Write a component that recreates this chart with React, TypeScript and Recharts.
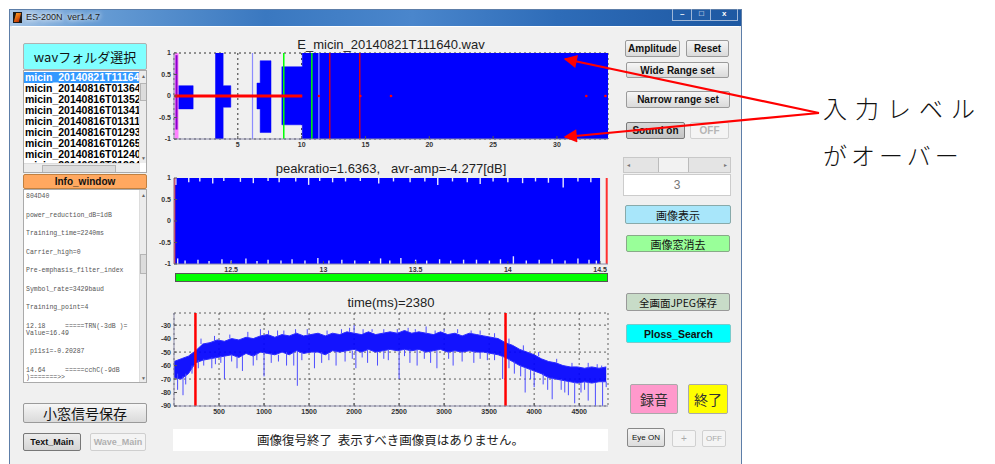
import React from "react";
import {
  ComposedChart,
  Area,
  XAxis,
  YAxis,
  CartesianGrid,
  ReferenceLine,
  ReferenceArea,
  ReferenceDot,
} from "recharts";

// ---- top plot: whole recording, envelope per segment (time s, min, max)
const waveStart = [0, 0.35, 1.5, 3.25, 3.85, 4.45, 6.5, 6.75, 7.6, 8.45, 10.05, 34];
const waveHigh = [0, 0.24, 0, 1, 0.24, 0, 0.3, 0.82, 0, 0.68, 1, 1];
const waveLow = [0, -0.3, 0, -1, -0.26, 0, -0.3, -0.85, 0, -0.67, -1, -1];
const waveTicks = [5, 10, 15, 20, 25, 30];
const ampTicks = [-1, -0.5, 0, 0.5, 1];
const greenMarks = [8.6, 10.8];
const paleMarks = [6.15, 11.35];
const redMarks = [12.2, 14.55];
const zeroDots = [11.35, 14.6, 17.0, 32.3, 33.8];
const startBand = [0.05, 0.35];
const startLine = [0.2, -0.78, 0.95];
const zeroLineEnd = 10.05;

// ---- middle plot: zoomed window 12.19 .. 14.5 s
const zoomRange = [12.19, 14.5];
const zoomDomain = [12.19, 14.543];
const zoomTicks = [12.5, 13, 13.5, 14, 14.5];
const zoomCursors = [12.193, 14.536];
// dropouts: [time s, depth from the rail]
const dropTop = [
  [12.2, 0.16], [12.27, 0.1], [12.33, 0.08], [12.4, 0.13], [12.46, 0.07], [12.55, 0.09],
  [12.62, 0.12], [12.7, 0.07], [12.76, 0.1], [12.85, 0.08], [12.92, 0.16], [12.98, 0.07],
  [13.05, 0.1], [13.12, 0.08], [13.2, 0.07], [13.3, 0.13], [13.38, 0.08], [13.47, 0.1],
  [13.55, 0.08], [13.62, 0.16], [13.7, 0.08], [13.78, 0.1], [13.85, 0.14], [13.92, 0.08],
  [14.0, 0.1], [14.08, 0.12], [14.15, 0.08], [14.22, 0.11], [14.3, 0.22], [14.38, 0.08],
  [14.45, 0.1],
];
const dropBottom = [
  [12.21, 0.13], [12.25, 0.08], [12.32, 0.1], [12.38, 0.07], [12.45, 0.11], [12.5, 0.08],
  [12.58, 0.13], [12.64, 0.07], [12.7, 0.1], [12.77, 0.08], [12.83, 0.11], [12.9, 0.08],
  [12.97, 0.14], [13.03, 0.08], [13.1, 0.1], [13.17, 0.08], [13.25, 0.07], [13.31, 0.13],
  [13.36, 0.08], [13.42, 0.14], [13.5, 0.1], [13.56, 0.08], [13.63, 0.11], [13.69, 0.08],
  [13.76, 0.1], [13.83, 0.1], [13.9, 0.08], [13.96, 0.11], [14.03, 0.18], [14.1, 0.08],
  [14.17, 0.1], [14.24, 0.11], [14.31, 0.08], [14.38, 0.13], [14.44, 0.1], [14.48, 0.08],
];

// ---- bottom plot: level in dB, one value every 80 ms
const levelStep = 80;
const levelHigh = [
  -57, -55, -53, -49, -44, -43, -41, -42, -40, -41,
  -39, -40, -38, -37, -39, -37, -38, -36, -38, -37,
  -36, -38, -36, -37, -35, -36, -37, -35, -37, -36,
  -35, -36, -34, -36, -35, -36, -37, -35, -37, -36,
  -38, -36, -37, -38, -39, -40, -43, -45, -48, -50,
  -52, -55, -57, -58, -60, -61, -61, -62, -61, -62, -61,
];
const levelLow = [
  -69, -70, -66, -58, -56, -55, -54, -53, -52, -54,
  -51, -53, -50, -51, -52, -50, -52, -49, -51, -50,
  -50, -52, -49, -50, -49, -48, -50, -48, -50, -49,
  -48, -49, -48, -49, -48, -50, -49, -48, -50, -49,
  -50, -49, -50, -50, -51, -52, -54, -57, -60, -62,
  -64, -66, -69, -70, -71, -72, -73, -72, -73, -72, -72,
];
// spikes: [time ms, from dB, to dB]
const levelSpikes = [
  [40, -66, -78], [100, -68, -82], [130, -66, -74], [270, -56, -62], [330, -55, -60],
  [420, -54, -62], [520, -53, -58], [560, -53, -70], [700, -53, -62], [760, -53, -64],
  [880, -52, -60], [1000, -50, -68], [1080, -51, -58], [1250, -50, -60], [1330, -50, -60],
  [1370, -49, -75], [1560, -50, -62], [1640, -50, -58], [1800, -49, -60], [1900, -49, -57],
  [2020, -48, -62], [2150, -48, -58], [2260, -50, -60], [2380, -48, -56], [2500, -49, -70],
  [2620, -48, -58], [2700, -48, -60], [2850, -49, -58], [2920, -49, -62], [3100, -49, -60],
  [3200, -50, -57], [3330, -49, -58], [3480, -50, -56], [3650, -53, -70], [3780, -57, -66],
  [3900, -62, -80], [4000, -64, -76], [4100, -66, -74], [4200, -69, -85], [4300, -70, -78],
  [4380, -72, -82], [4450, -72, -88], [4520, -73, -80], [4600, -72, -86], [4680, -73, -90],
  [4760, -72, -90], [200, -60, -66], [460, -54, -59], [640, -52, -57], [920, -51, -56],
  [1160, -52, -57], [1420, -50, -56], [1720, -51, -56], [1980, -49, -55], [2090, -50, -54],
  [2330, -49, -55], [2560, -48, -53], [2780, -49, -55], [3050, -50, -55], [3400, -50, -55],
  [3560, -51, -56], [3720, -55, -62], [3850, -60, -68], [3960, -63, -70], [4150, -68, -78],
  [4340, -71, -80], [4560, -72, -78], [4800, -72, -76],
  [960, -38, -33], [1050, -37, -34], [1350, -36, -33], [2000, -36, -30], [2200, -35, -33],
  [2480, -36, -33], [2800, -36, -31], [3000, -35, -33], [3300, -36, -34], [4600, -62, -58],
  [4750, -62, -60], [300, -44, -40], [450, -42, -38], [620, -40, -37], [820, -39, -35],
  [1150, -38, -34], [1220, -37, -34], [1480, -37, -33], [1700, -37, -34], [1860, -36, -33],
  [1950, -35, -32], [2100, -36, -33], [2330, -36, -33], [2600, -35, -32], [2680, -35, -33],
  [2900, -36, -34], [3150, -36, -33], [3400, -37, -34], [3560, -39, -36], [3720, -44, -40],
  [3880, -49, -45], [4050, -53, -50], [4250, -58, -55], [4420, -61, -58], [4700, -62, -59],
];
const levelTicksX = [500, 1000, 1500, 2000, 2500, 3000, 3500, 4000, 4500];
const levelTicksY = [-90, -80, -70, -60, -50, -40, -30];
const levelDomainX = [0, 4820];
const levelDomainY = [-90, -21];
const levelCursors = [238, 3682];

// ---- GUI texts
const wavFiles = [
  "micin_20140821T11164",
  "micin_20140816T01364",
  "micin_20140816T01352",
  "micin_20140816T01341",
  "micin_20140816T01311",
  "micin_20140816T01293",
  "micin_20140816T01265",
  "micin_20140816T01240",
  "micin_20140816T01224",
];
const infoBlocks = [
  ["804D40"],
  ["power_reduction_dB=1dB"],
  ["Training_time=2240ms"],
  ["Carrier_high=0"],
  ["Pre-emphasis_filter_index"],
  ["Symbol_rate=3429baud"],
  ["Training_point=4"],
  ["12.18     =====TRN(-3dB )=", "Value=16.49"],
  [" p11s1=-0.20287"],
  ["14.64     =====cchC(-9dB", ")=======>>"],
];

const SANS = "'Liberation Sans', Arial, sans-serif";
const JP = "'Noto Sans CJK JP', sans-serif";
const tickStyle = { fontSize: 7, fill: "#333", fontFamily: SANS, fontWeight: 700 };
const frame = { stroke: "#8a8aa8", strokeWidth: 1 };
const fmt = (v: number) => String(v);

function Btn(props: any) {
  const {
    x, y, w, h, label, bg = "linear-gradient(#f6f6f6,#dadada)", color = "#111",
    size = 10, weight = 700, border = "#9a9a9a", font = SANS,
  } = props;
  return (
    <div
      style={{
        position: "absolute", left: x, top: y, width: w, height: h, background: bg,
        border: `1px solid ${border}`, borderRadius: 2, boxSizing: "border-box",
        display: "flex", alignItems: "center", justifyContent: "center",
        fontSize: size, fontWeight: weight, color, fontFamily: font,
        whiteSpace: "nowrap", overflow: "hidden",
      }}
    >
      {label}
    </div>
  );
}

function Title({ y, text }: { y: number; text: string }) {
  return (
    <div
      style={{
        position: "absolute", left: 174, width: 434, top: y, textAlign: "center",
        fontSize: 13, fontFamily: SANS, color: "#222", whiteSpace: "pre", lineHeight: "14px",
      }}
    >
      {text}
    </div>
  );
}

function WavePlot() {
  const rows = waveStart.map((t, i) => ({ t, range: [waveLow[i], waveHigh[i]] }));
  return (
    <div style={{ position: "absolute", left: 140, top: 36 }}>
      <ComposedChart width={475} height={117} data={rows} margin={{ top: 17, right: 7, bottom: 0, left: 0 }}>
        <CartesianGrid stroke="#000" strokeDasharray="2 3" strokeWidth={0.8} />
        <XAxis type="number" dataKey="t" domain={[0, 34]} ticks={waveTicks} height={14} tick={tickStyle}
          tickSize={-3} tickMargin={6} axisLine={frame} tickLine={{ stroke: "#555" }} allowDataOverflow />
        <YAxis type="number" domain={[-1, 1]} ticks={ampTicks} width={34} tick={tickStyle} tickFormatter={fmt}
          tickSize={-3} tickMargin={6} axisLine={frame} tickLine={{ stroke: "#555" }} allowDataOverflow />
        <XAxis xAxisId="top" orientation="top" type="number" domain={[0, 34]} height={0} tick={false} tickLine={false} axisLine={frame} />
        <YAxis yAxisId="right" orientation="right" type="number" domain={[-1, 1]} width={0} tick={false} tickLine={false} axisLine={frame} />
        <Area dataKey="range" type="stepAfter" fill="#0000ff" fillOpacity={1} stroke="#0000ff" strokeWidth={0.5} isAnimationActive={false} />
        <ReferenceArea x1={startBand[0]} x2={startBand[1]} y1={-1} y2={1} fill="#ff80ff" fillOpacity={1} stroke="none" />
        <ReferenceLine segment={[{ x: startLine[0], y: startLine[1] }, { x: startLine[0], y: startLine[2] }]} stroke="#8800cc" strokeWidth={2} />
        {paleMarks.map((x) => (
          <ReferenceLine key={"p" + x} x={x} stroke="#8c8cff" strokeWidth={1.2} />
        ))}
        {greenMarks.map((x) => (
          <ReferenceLine key={"g" + x} x={x} stroke="#00ff00" strokeWidth={1.5} />
        ))}
        {redMarks.map((x) => (
          <ReferenceLine key={"r" + x} x={x} stroke="#d0001a" strokeWidth={1.5} />
        ))}
        <ReferenceLine segment={[{ x: 0, y: 0 }, { x: zeroLineEnd, y: 0 }]} stroke="#ff0000" strokeWidth={3} />
        {zeroDots.map((x) => (
          <ReferenceDot key={"d" + x} x={x} y={0} r={1.3} fill="#ff0000" stroke="none" />
        ))}
      </ComposedChart>
    </div>
  );
}

function ZoomPlot() {
  const rows = zoomRange.map((t) => ({ t, range: [-1, 1] }));
  return (
    <div style={{ position: "absolute", left: 140, top: 161 }}>
      <ComposedChart width={475} height={117} data={rows} margin={{ top: 17, right: 7, bottom: 0, left: 0 }}>
        <XAxis type="number" dataKey="t" domain={zoomDomain} ticks={zoomTicks} height={14} tick={tickStyle} tickFormatter={fmt}
          tickSize={-3} tickMargin={6} axisLine={frame} tickLine={{ stroke: "#555" }} allowDataOverflow />
        <YAxis type="number" domain={[-1, 1]} ticks={ampTicks} width={34} tick={tickStyle} tickFormatter={fmt}
          tickSize={-3} tickMargin={6} axisLine={frame} tickLine={{ stroke: "#555" }} allowDataOverflow />
        <XAxis xAxisId="top" orientation="top" type="number" domain={zoomDomain} height={0} tick={false} tickLine={false} axisLine={frame} />
        <YAxis yAxisId="right" orientation="right" type="number" domain={[-1, 1]} ticks={[-0.5, 0.5]} width={0} tick={false}
          tickSize={-3} tickLine={{ stroke: "#333" }} axisLine={frame} />
        <Area dataKey="range" type="linear" fill="#0000ff" fillOpacity={1} stroke="none" isAnimationActive={false} />
        {dropTop.map(([x, d]) => (
          <ReferenceLine key={"t" + x} segment={[{ x, y: 1 }, { x, y: 1 - d }]} stroke="#e8e8ff" strokeWidth={1.4} />
        ))}
        {dropBottom.map(([x, d]) => (
          <ReferenceLine key={"b" + x} segment={[{ x, y: -1 }, { x, y: -1 + d }]} stroke="#e8e8ff" strokeWidth={1.4} />
        ))}
        <ReferenceLine x={zoomCursors[0]} stroke="#ff3030" strokeWidth={1.5} />
        <ReferenceLine x={zoomCursors[1]} stroke="#ff3030" strokeWidth={2} />
      </ComposedChart>
    </div>
  );
}

function LevelPlot() {
  const rows = levelHigh.map((hi, i) => ({ t: i * levelStep, range: [levelLow[i], hi] }));
  return (
    <div style={{ position: "absolute", left: 140, top: 296 }}>
      <ComposedChart width={475} height={124} data={rows} margin={{ top: 17, right: 7, bottom: 0, left: 0 }}>
        <CartesianGrid stroke="#222" strokeDasharray="2 3" strokeWidth={0.7} />
        <XAxis type="number" dataKey="t" domain={levelDomainX} ticks={levelTicksX} height={14} tick={tickStyle}
          tickSize={-3} tickMargin={6} axisLine={frame} tickLine={{ stroke: "#555" }} allowDataOverflow />
        <YAxis type="number" domain={levelDomainY} ticks={levelTicksY} width={34} tick={tickStyle}
          tickSize={-3} tickMargin={6} axisLine={frame} tickLine={{ stroke: "#555" }} allowDataOverflow />
        <XAxis xAxisId="top" orientation="top" type="number" domain={levelDomainX} height={0} tick={false} tickLine={false} axisLine={frame} />
        <YAxis yAxisId="right" orientation="right" type="number" domain={levelDomainY} width={0} tick={false} tickLine={false} axisLine={frame} />
        <Area dataKey="range" type="linear" fill="#0000ff" fillOpacity={0.92} stroke="#2a2aff" strokeWidth={1} isAnimationActive={false} />
        {levelSpikes.map(([x, a, b], i) => (
          <ReferenceLine key={"s" + i} segment={[{ x, y: a }, { x, y: b }]} stroke="#4d4dff" strokeWidth={1} />
        ))}
        {levelCursors.map((x) => (
          <ReferenceLine key={"c" + x} x={x} stroke="#ff0000" strokeWidth={2.5} />
        ))}
      </ComposedChart>
    </div>
  );
}

function Scroll({ x, y, h, thumbTop, thumbH }: any) {
  return (
    <div style={{ position: "absolute", left: x, top: y, width: 8, height: h, background: "#ececec", borderLeft: "1px solid #ddd" }}>
      <div style={{ position: "absolute", left: 0, top: thumbTop, width: 7, height: thumbH, background: "#dcdcdc", border: "1px solid #b5b5b5", boxSizing: "border-box" }} />
      <div style={{ position: "absolute", left: 1, top: 2, fontSize: 5, color: "#666" }}>▲</div>
      <div style={{ position: "absolute", left: 1, bottom: 2, fontSize: 5, color: "#666" }}>▼</div>
    </div>
  );
}

function LeftPanel() {
  return (
    <>
      <Btn x={23} y={43} w={124} h={27} label="wavフォルダ選択" bg="#80ffff" size={13} weight={400} font={JP} border="#b0b0b0" />
      <div style={{ position: "absolute", left: 23, top: 70, width: 124, height: 103, background: "#fff", border: "1px solid #aaa", boxSizing: "border-box", overflow: "hidden" }}>
        {wavFiles.map((f, i) => (
          <div key={f} style={{
            position: "absolute", left: 0, top: 1 + i * 11, width: 115, height: 11, lineHeight: "11px",
            fontSize: 10.5, fontWeight: 700, fontFamily: SANS, paddingLeft: 1, whiteSpace: "nowrap", overflow: "hidden",
            background: i === 0 ? "#3399ff" : "transparent", color: i === 0 ? "#fff" : "#000",
          }}>{f}</div>
        ))}
        <div style={{ position: "absolute", left: 0, top: 92, width: 116, height: 10, background: "#ececec", borderTop: "1px solid #ddd" }}>
          <div style={{ position: "absolute", left: 18, top: 1, width: 72, height: 7, background: "#dcdcdc", border: "1px solid #b5b5b5" }} />
        </div>
        <Scroll x={115} y={0} h={92} thumbTop={12} thumbH={18} />
      </div>
      <Btn x={23} y={174} w={124} h={15} label="Info_window" bg="#ffa860" size={10} weight={700} border="#c08040" />
      <div style={{ position: "absolute", left: 23, top: 189, width: 124, height: 194, background: "#fff", border: "1px solid #aaa", boxSizing: "border-box", overflow: "hidden" }}>
        <div style={{ position: "absolute", left: 2, top: 3, fontFamily: "'Liberation Mono', monospace", fontSize: 6.5, color: "#555", whiteSpace: "pre" }}>
          {infoBlocks.map((b, i) => (
            <div key={i} style={{ height: 7 * b.length + 11.5 }}>
              {b.map((l, j) => (
                <div key={j} style={{ height: 7, lineHeight: "7px" }}>{l}</div>
              ))}
            </div>
          ))}
        </div>
        <Scroll x={115} y={0} h={193} thumbTop={64} thumbH={20} />
      </div>
      <Btn x={23} y={403} w={124} h={20} label="小窓信号保存" size={14} weight={400} font={JP} />
      <Btn x={23} y={433} w={58} h={18} label="Text_Main" size={9} bg="linear-gradient(#ececec,#d4d4d4)" border="#777" />
      <Btn x={90} y={433} w={56} h={18} label="Wave_Main" size={9} bg="#f4f4f4" color="#b0b0b0" border="#cfcfcf" />
    </>
  );
}

function RightPanel() {
  return (
    <>
      <Btn x={625} y={40} w={55} h={17} label="Amplitude" size={10} />
      <Btn x={686} y={40} w={43} h={17} label="Reset" size={10} />
      <Btn x={626} y={62} w={103} h={16} label="Wide Range set" size={10} />
      <Btn x={626} y={91} w={104} h={17} label="Narrow range set" size={10} />
      <Btn x={626} y={122} w={59} h={17} label="Sound on" size={10} bg="linear-gradient(#d8d8d8,#c4c4c4)" border="#7a7a7a" />
      <Btn x={690} y={122} w={39} h={17} label="OFF" size={10} bg="#f4f4f4" color="#b5b5b5" border="#d0d0d0" />
      <div style={{ position: "absolute", left: 623, top: 157, width: 108, height: 16, background: "#e4e4e4", border: "1px solid #c8c8c8", boxSizing: "border-box" }}>
        <div style={{ position: "absolute", left: 0, top: 0, width: 9, height: 14, fontSize: 6, color: "#777", textAlign: "center", lineHeight: "14px" }}>◂</div>
        <div style={{ position: "absolute", left: 34, top: 0, width: 29, height: 14, background: "#f2f2f2", borderLeft: "1px solid #bbb", borderRight: "1px solid #bbb" }} />
        <div style={{ position: "absolute", right: 0, top: 0, width: 9, height: 14, fontSize: 6, color: "#777", textAlign: "center", lineHeight: "14px" }}>▸</div>
      </div>
      <div style={{ position: "absolute", left: 623, top: 174, width: 108, height: 22, background: "#fff", border: "1px solid #ccc", boxSizing: "border-box", textAlign: "center", fontFamily: SANS, fontSize: 12, lineHeight: "20px", color: "#777" }}>3</div>
      <Btn x={625} y={205} w={106} h={19} label="画像表示" bg="#a8e6fa" size={11} weight={400} font={JP} border="#8aa" />
      <Btn x={626} y={235} w={104} h={17} label="画像窓消去" bg="#99ff99" size={11} weight={400} font={JP} border="#8a8" />
      <Btn x={626} y={293} w={104} h={18} label="全画面JPEG保存" bg="#c8dcc8" size={10.5} weight={400} font={JP} border="#999" />
      <Btn x={626} y={324} w={105} h={19} label="Ploss_Search" bg="#00ffff" size={10.5} weight={700} border="#7cc" />
      <Btn x={630} y={384} w={48} h={30} label="録音" bg="#ff99cc" size={14} weight={400} font={JP} color="#333" border="#aaa" />
      <Btn x={688} y={384} w={40} h={30} label="終了" bg="#ffff00" size={14} weight={400} font={JP} color="#333" border="#aaa" />
      <Btn x={627} y={428} w={38} h={19} label="Eye ON" size={8} weight={400} bg="linear-gradient(#f6f6f6,#dcdcdc)" border="#888" />
      <Btn x={672} y={430} w={24} h={17} label="+" size={10} weight={400} bg="#f4f4f4" color="#aaa" border="#d0d0d0" />
      <Btn x={702} y={430} w={24} h={17} label="OFF" size={8} weight={400} bg="#f4f4f4" color="#aaa" border="#d0d0d0" />
    </>
  );
}

export default function App() {
  return (
    <div style={{ position: "absolute", left: 0, top: 0, width: 995, height: 464, background: "#fff", overflow: "hidden", fontFamily: SANS }}>
      {/* window frame */}
      <div style={{ position: "absolute", left: 9, top: 9, width: 733, height: 470, background: "#f0f0f0", border: "1px solid #5d7ea8", boxSizing: "border-box" }} />
      <div style={{ position: "absolute", left: 10, top: 10, width: 731, height: 16, background: "linear-gradient(90deg,#a8c6e6 0%,#6a9fd6 10%,#3a78c0 35%,#4a86cc 55%,#2e6cb8 75%,#1d58a2 100%)" }} />
      <div style={{ position: "absolute", left: 12, top: 26, width: 727, height: 440, background: "#f0f0f0", borderTop: "1px solid #fff" }} />
      <div style={{ position: "absolute", left: 13, top: 12, width: 9, height: 11, background: "#1a1a1a" }}>
        <div style={{ position: "absolute", left: 2, top: 1, width: 5, height: 9, background: "linear-gradient(135deg,#ff9a20,#c03000)", transform: "skewX(-15deg)" }} />
      </div>
      <div style={{ position: "absolute", left: 26, top: 11, fontSize: 9, color: "#222", fontFamily: SANS, lineHeight: "13px", whiteSpace: "pre", textShadow: "0 0 4px #fff, 0 0 6px #fff" }}>ES-200N  ver1.4.7</div>
      <div style={{ position: "absolute", left: 672, top: 9, width: 66, height: 12, border: "1px solid #9fb7d8", borderTop: "none", boxSizing: "border-box", display: "flex", fontSize: 8, color: "#fff", fontWeight: 700 }}>
        <div style={{ flex: 1, textAlign: "center", lineHeight: "10px", borderRight: "1px solid #9fb7d8" }}>–</div>
        <div style={{ flex: 1, textAlign: "center", lineHeight: "10px", borderRight: "1px solid #9fb7d8" }}>□</div>
        <div style={{ flex: 1.4, textAlign: "center", lineHeight: "10px" }}>x</div>
      </div>

      <LeftPanel />

      <Title y={38} text="E_micin_20140821T111640.wav" />
      <WavePlot />
      <Title y={162} text="peakratio=1.6363,   avr-amp=-4.277[dB]" />
      <ZoomPlot />
      <div style={{ position: "absolute", left: 175, top: 273, width: 433, height: 9, background: "#00ff00", border: "1px solid #555", boxSizing: "border-box" }} />
      <Title y={296} text="time(ms)=2380" />
      <LevelPlot />

      <div style={{ position: "absolute", left: 173, top: 429, width: 435, height: 22, background: "#fff", textAlign: "center", fontFamily: JP, fontSize: 12.5, lineHeight: "22px", color: "#222", whiteSpace: "pre" }}>
        画像復号終了  表示すべき画像頁はありません。
      </div>

      <RightPanel />

      {/* annotation */}
      <svg width={995} height={464} style={{ position: "absolute", left: 0, top: 0, pointerEvents: "none" }}>
        <defs>
          <marker id="head" viewBox="0 0 10 10" refX="9" refY="5" markerWidth="7" markerHeight="6" orient="auto-start-reverse" markerUnits="strokeWidth">
            <path d="M0,0 L10,5 L0,10 z" fill="#ff0000" />
          </marker>
        </defs>
        <line x1={819} y1={113} x2={565} y2={59} stroke="#ff0000" strokeWidth={2.2} markerEnd="url(#head)" />
        <line x1={819} y1={113} x2={565} y2={137} stroke="#ff0000" strokeWidth={2.2} markerEnd="url(#head)" />
      </svg>
      <div style={{ position: "absolute", left: 823, top: 95, fontFamily: JP, fontSize: 24, lineHeight: "26px", letterSpacing: 8, color: "#111", fontWeight: 300, whiteSpace: "nowrap" }}>入力レベル</div>
      <div style={{ position: "absolute", left: 823, top: 142, fontFamily: JP, fontSize: 24, lineHeight: "26px", letterSpacing: 4, color: "#111", fontWeight: 300, whiteSpace: "nowrap" }}>がオーバー</div>
    </div>
  );
}
